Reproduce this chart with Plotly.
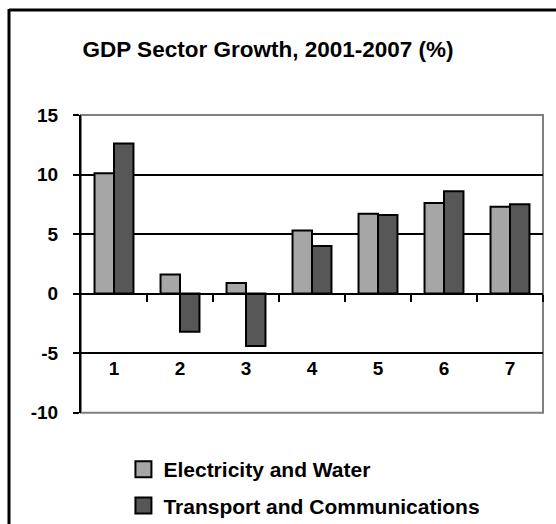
import plotly.graph_objects as go

categories = ["1", "2", "3", "4", "5", "6", "7"]
electricity_water = [10.1, 1.6, 0.9, 5.3, 6.7, 7.6, 7.3]
transport_comm = [12.6, -3.2, -4.4, 4.0, 6.6, 8.6, 7.5]
y_ticks = [-10, -5, 0, 5, 10, 15]
y_tick_text = ["-10", "-5", "0", "5", "10", "15"]
series_names = ["Electricity and Water", "Transport and Communications"]
series_colors = ["#a6a6a6", "#575757"]

W, H = 556, 524
FONT = "Liberation Sans, Arial, sans-serif"

xs = list(range(1, len(categories) + 1))
boundaries = [i + 0.5 for i in xs]

fig = go.Figure()
for vals, name, col in zip([electricity_water, transport_comm], series_names, series_colors):
    fig.add_trace(go.Bar(x=xs, y=vals, name=name, showlegend=False,
                         marker=dict(color=col, line=dict(color="black", width=2))))
# legend proxies (larger square swatches)
for i, (name, col) in enumerate(zip(series_names, series_colors)):
    fig.add_trace(go.Scatter(x=[None], y=[None], name=name, mode="markers",
                             legendgroup=f"g{i}",
                             marker=dict(symbol="square", size=16, color=col,
                                         line=dict(color="black", width=2))))
# invisible helper trace so the label axis is drawn
fig.add_trace(go.Scatter(x=xs, y=[None] * len(xs), xaxis="x2", yaxis="y",
                         showlegend=False, hoverinfo="skip", mode="markers"))

x0, x1 = 81 / W, 543 / W
y0, y1 = 1 - 412.7 / H, 1 - 115 / H
ymin, ymax = -10, 15
def ypaper(v):
    return y0 + (v - ymin) / (ymax - ymin) * (y1 - y0)

fig.update_layout(
    template="none",
    width=W, height=H,
    margin=dict(l=0, r=0, t=0, b=0, autoexpand=False),
    paper_bgcolor="white", plot_bgcolor="white",
    barmode="group", bargap=0.41, bargroupgap=0,
    font=dict(family=FONT, size=19, color="black", weight="bold"),
    title=dict(text="GDP Sector Growth, 2001-2007 (%)", x=268 / W, xanchor="center",
               y=1 - 49 / H, yanchor="middle", automargin=False,
               font=dict(family=FONT, size=22.5, color="black", weight="bold")),
    # zero axis line
    xaxis=dict(domain=[x0, x1], range=[0.5, 7.5], anchor="free", position=ypaper(0),
               tickmode="array", tickvals=boundaries, showticklabels=False,
               ticks="outside", ticklen=7, tickwidth=2, tickcolor="black",
               showline=True, linecolor="black", linewidth=2, automargin=False,
               showgrid=False, zeroline=False, fixedrange=True),
    # category labels
    xaxis2=dict(overlaying="x", anchor="free", position=ypaper(-5) - 2 / H, range=[0.5, 7.5],
                tickmode="array", tickvals=xs, ticktext=categories, ticks="",
                showline=False, showgrid=False, zeroline=False, automargin=False,
                tickfont=dict(family=FONT, size=19, color="black", weight="bold")),
    yaxis=dict(domain=[y0, y1], range=[ymin, ymax], tickmode="array",
               tickvals=y_ticks, ticktext=y_tick_text, anchor="x", automargin=False,
               showgrid=True, gridcolor="black", gridwidth=2, zeroline=False,
               showline=True, linecolor="black", linewidth=2,
               ticks="outside", ticklen=6, tickwidth=2, tickcolor="black",
               ticklabelstandoff=11,
               tickfont=dict(family=FONT, size=19, color="black", weight="bold")),
    legend=dict(x=0.222, xanchor="left", y=1 - 449 / H, yanchor="top",
                orientation="v", tracegroupgap=6, bgcolor="rgba(0,0,0,0)",
                borderwidth=0,
                font=dict(family=FONT, size=21, color="black", weight="bold")),
    showlegend=True,
)

# tick marks hanging below the zero axis at category boundaries
for b in boundaries:
    fig.add_shape(type="line", xref="x", yref="y", ysizemode="pixel", yanchor=0,
                  x0=b, x1=b, y0=0, y1=-7, line=dict(color="black", width=2))

# plot-area border (grey on top/right/bottom)
fig.add_shape(type="rect", xref="x domain", yref="y domain", x0=0, x1=1, y0=0, y1=1,
              line=dict(color="#808080", width=2), layer="below")
# outer chart border (left and top)
fig.add_shape(type="line", xref="paper", yref="paper", x0=9 / W, x1=9 / W, y0=0, y1=1 - 9 / H,
              line=dict(color="black", width=3))
fig.add_shape(type="line", xref="paper", yref="paper", x0=9 / W, x1=1, y0=1 - 10 / H, y1=1 - 10 / H,
              line=dict(color="black", width=3))

fig.write_html("out.html")
